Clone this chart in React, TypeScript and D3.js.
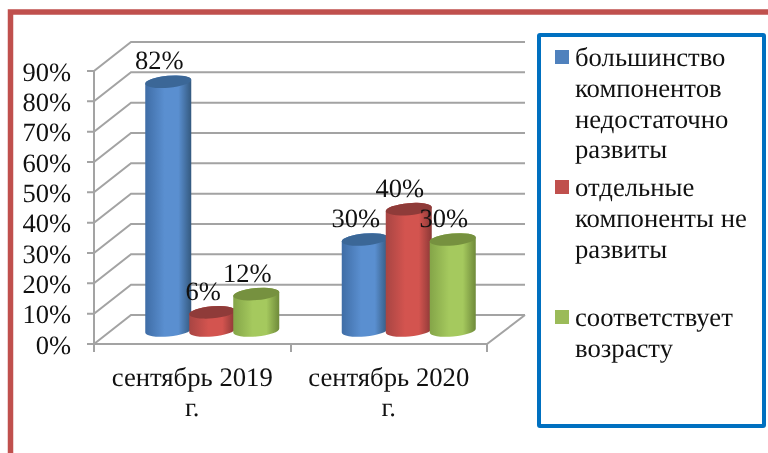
import React from "react";
import * as d3 from "d3";

const categories = ["сентябрь 2019", "сентябрь 2020"];
const seriesNames = ["blue", "red", "green"];
const series1 = [82, 30];
const series2 = [6, 40];
const series3 = [12, 30];
const ticks = [0, 10, 20, 30, 40, 50, 60, 70, 80, 90];
const legendLines = [
  ["большинство", "компонентов", "недостаточно", "развиты"],
  ["отдельные", "компоненты не", "развиты"],
  ["соответствует", "возрасту"],
];
const legendBaselines = [[66, 97, 128, 158], [196, 227, 258], [326, 357]];
const legendMarkers = [50, 180, 310];
const fills = ["#4f81bd", "#c0504d", "#9bbb59"];
const gradients = [
  ["#3f6da6", "#5a8fd0", "#34597f"],
  ["#a84543", "#d3544f", "#8a3836"],
  ["#84a548", "#a5c95e", "#6f8a3a"],
];
const tops = ["#3b6797", "#8f3b39", "#76913f"];

const font = "'Liberation Serif'";
const grid = "#a3a3a3";

const x0 = d3.scaleBand<string>().domain(categories).range([94, 487]);
const y = d3.scaleLinear().domain([0, 90]).range([344, 71]);
const xInner = d3.scaleBand<string>().domain(seriesNames).range([-66, 66]);
const depthX = 37;
const depthY = 29;
const midX = 20;
const midY = 13.5;
const rx = 23;
const ry = 6;
const tilt = 2;

function cyl(cx: number, topY: number, baseY: number) {
  const l = cx - rx;
  const r = cx + rx;
  return `M${l},${topY + tilt} A${rx},${ry} -5 0 1 ${r},${topY - tilt} L${r},${baseY - tilt} A${rx},${ry} -5 0 1 ${l},${baseY + tilt} Z`;
}
function cap(cx: number, topY: number) {
  const l = cx - rx;
  const r = cx + rx;
  return `M${l},${topY + tilt} A${rx},${ry} -5 0 1 ${r},${topY - tilt} A${rx},${ry} -5 0 1 ${l},${topY + tilt} Z`;
}

export default function App() {
  const all = [series1, series2, series3];
  return (
    <svg
      width={768}
      height={453}
      style={{
        position: "absolute",
        left: 0,
        top: 0,
        background: "#fff",
        filter: "blur(0.35px)",
        textRendering: "geometricPrecision",
      }}
      fontFamily={font}
    >
      <defs>
        {gradients.map((g, i) => (
          <linearGradient key={i} id={`g${i}`} x1="0" x2="1" y1="0" y2="0">
            <stop offset="0" stopColor={g[0]} />
            <stop offset="0.42" stopColor={g[1]} />
            <stop offset="0.72" stopColor={g[1]} />
            <stop offset="1" stopColor={g[2]} />
          </linearGradient>
        ))}
      </defs>

      {/* outer frame */}
      <path d="M10.5,453 V12 H768" fill="none" stroke="#c0504d" strokeWidth={5.5} />

      {/* walls */}
      {ticks.map((t) => (
        <g key={t}>
          <path
            d={`M87,${y(t)} H94 L${94 + depthX},${y(t) - depthY} H525`}
            fill="none"
            stroke={grid}
            strokeWidth={2}
          />
          <text x={71} y={y(t) + 9.5} textAnchor="end" fontSize={26.5} fill="#111">
            {t}%
          </text>
        </g>
      ))}
      <path
        d={`M94,${y(90)} V352 M94,${y(0)} H487 L525,${y(0) - depthY} M291,344 V352 M487,344 V352`}
        fill="none"
        stroke={grid}
        strokeWidth={2}
      />

      {/* bars */}
      {all.map((vals, s) =>
        categories.map((c, i) => {
          const cx = x0(c)! + midX + x0.bandwidth() / 2 + xInner(seriesNames[s])! + xInner.bandwidth() / 2;
          const base = y(0) - midY;
          const top = y(vals[i]) - midY;
          return (
            <g key={c + s}>
              <path d={cyl(cx, top, base)} fill={`url(#g${s})`} />
              <path d={cap(cx, top)} fill={tops[s]} />
            </g>
          );
        })
      )}

      {/* data labels */}
      {all.map((vals, s) =>
        categories.map((c, i) => {
          const cx = x0(c)! + 11 + x0.bandwidth() / 2 + xInner(seriesNames[s])! + xInner.bandwidth() / 2;
          return (
            <text key={c + s} x={cx} y={y(vals[i]) - midY - 12.5} textAnchor="middle" fontSize={26.5} fill="#111">
              {vals[i]}%
            </text>
          );
        })
      )}

      {/* category labels */}
      {categories.map((c) => (
        <g key={c} textAnchor="middle" fontSize={26.7} fill="#111">
          <text x={x0(c)! + x0.bandwidth() / 2} y={386}>{c}</text>
          <text x={x0(c)! + x0.bandwidth() / 2} y={416}>г.</text>
        </g>
      ))}

      {/* legend */}
      <rect x={539} y={35} width={225} height={391} fill="#fff" stroke="#0070c0" strokeWidth={4} rx={1} />
      {legendLines.map((lines, i) => (
        <g key={i}>
          <rect x={555} y={legendMarkers[i]} width={14} height={14} fill={fills[i]} />
          {lines.map((l, j) => (
            <text key={j} x={575} y={legendBaselines[i][j]} fontSize={26.7} fill="#111">
              {l}
            </text>
          ))}
        </g>
      ))}
    </svg>
  );
}
